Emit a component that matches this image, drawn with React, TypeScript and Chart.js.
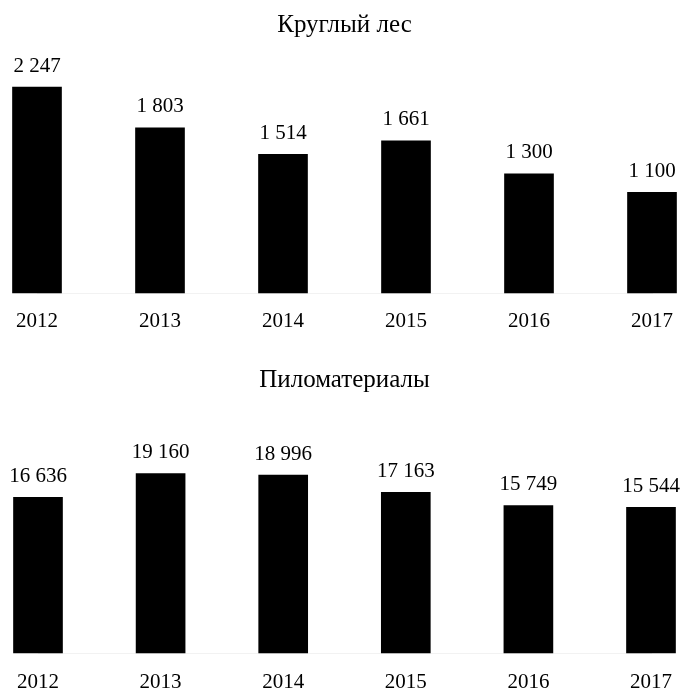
import React, { useEffect, useRef } from 'react';
import { Chart, registerables } from 'chart.js';

Chart.register(...registerables);

const years = ['2012', '2013', '2014', '2015', '2016', '2017'];
const roundwoodValues = [2247, 1803, 1514, 1661, 1300, 1100];
const lumberValues = [16636, 19160, 18996, 17163, 15749, 15544];
const roundwoodTitle = 'Круглый лес';
const lumberTitle = 'Пиломатериалы';

const FONT = '"Liberation Serif", "Times New Roman", Times, serif';

const fmt = (v: number) => String(v).replace(/\B(?=(\d{3})+(?!\d))/g, '\u00a0');

const valueLabels = {
  id: 'valueLabels',
  afterDatasetsDraw(chart: any) {
    const ctx = chart.ctx;
    ctx.save();
    ctx.font = `21px ${FONT}`;
    ctx.fillStyle = '#000';
    ctx.textAlign = 'center';
    ctx.textBaseline = 'middle';
    const ds = chart.data.datasets[0].data as number[];
    chart.getDatasetMeta(0).data.forEach((bar: any, i: number) => {
      ctx.fillText(fmt(ds[i]), bar.x, bar.y - 21);
    });
    ctx.restore();
  },
};

interface Cfg {
  title: string;
  values: number[];
  yMax: number;
  titlePadTop: number;
  titlePadBottom: number;
  axisHeight: number;
  tickPadding: number;
}

function makeConfig(c: Cfg): any {
  return {
    type: 'bar',
    data: {
      labels: years,
      datasets: [
        {
          data: c.values,
          backgroundColor: '#000000',
          borderWidth: 0,
          barThickness: 49,
          clip: false,
        },
      ],
    },
    options: {
      animation: false,
      responsive: false,
      maintainAspectRatio: false,
      devicePixelRatio: 1,
      layout: { padding: { left: 36, right: 36, top: 0, bottom: 0 } },
      plugins: {
        legend: { display: false },
        tooltip: { enabled: false },
        title: {
          display: true,
          text: c.title,
          color: '#000',
          font: { family: FONT, size: 25, weight: 'normal', lineHeight: 1.2 },
          padding: { top: c.titlePadTop, bottom: c.titlePadBottom },
        },
      },
      scales: {
        x: {
          type: 'category',
          offset: false,
          grid: { display: false, drawTicks: false },
          border: { display: true, color: '#f2f2f2', width: 1 },
          ticks: {
            color: '#000',
            padding: c.tickPadding,
            maxRotation: 0,
            autoSkip: false,
            font: { family: FONT, size: 21, lineHeight: 1.2 },
          },
          afterFit: (scale: any) => {
            scale.height = c.axisHeight;
          },
        },
        y: {
          display: false,
          min: 0,
          max: c.yMax,
        },
      },
    },
    plugins: [valueLabels],
  };
}

function BarPanel({ cfg, top, height }: { cfg: Cfg; top: number; height: number }) {
  const ref = useRef<HTMLCanvasElement | null>(null);
  useEffect(() => {
    if (!ref.current) return;
    const chart = new Chart(ref.current, makeConfig(cfg));
    return () => chart.destroy();
  }, []);
  return (
    <canvas
      ref={ref}
      width={689}
      height={height}
      style={{ position: 'absolute', left: 0, top, width: 689, height }}
    />
  );
}

export default function App() {
  return (
    <div
      style={{
        position: 'fixed',
        left: 0,
        top: 0,
        width: 689,
        height: 691,
        overflow: 'hidden',
        background: '#ffffff',
      }}
    >
      <BarPanel
        top={0}
        height={345}
        cfg={{
          title: roundwoodTitle,
          values: roundwoodValues,
          yMax: 2500,
          titlePadTop: 10,
          titlePadBottom: 24,
          axisHeight: 52,
          tickPadding: 16,
        }}
      />
      <BarPanel
        top={345}
        height={346}
        cfg={{
          title: lumberTitle,
          values: lumberValues,
          yMax: 22000,
          titlePadTop: 20,
          titlePadBottom: 52,
          axisHeight: 38,
          tickPadding: 17,
        }}
      />
    </div>
  );
}
